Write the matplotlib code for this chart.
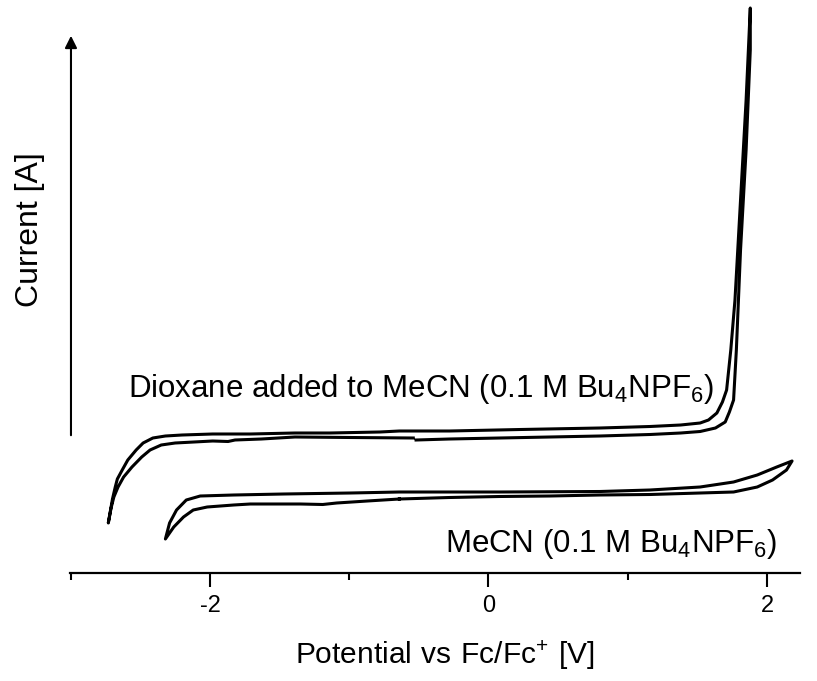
import matplotlib
matplotlib.use("Agg")
import matplotlib.pyplot as plt
import numpy as np

plt.rcParams['font.family'] = ['Liberation Sans', 'DejaVu Sans']
plt.rcParams['mathtext.fontset'] = 'custom'
plt.rcParams['mathtext.rm'] = 'Liberation Sans'
plt.rcParams['axes.unicode_minus'] = False

# dioxane added to MeCN: scan starts at -0.52 V, runs positive, back to -2.73 V, then up again
dioxane_v = [-0.52, -0.28, 0.08, 0.44, 0.80, 1.16, 1.38, 1.52, 1.63, 1.70, 1.73, 1.76,
             1.78, 1.81, 1.85, 1.88, 1.88,
             1.85, 1.81, 1.77, 1.74, 1.71, 1.68, 1.64, 1.58, 1.52, 1.38, 1.16, 0.80,
             0.23, -0.28, -0.64, -0.78, -1.14, -1.39, -1.71, -1.98, -2.20, -2.32,
             -2.41, -2.48, -2.53, -2.59, -2.63, -2.665, -2.68, -2.70, -2.715, -2.73,
             -2.71, -2.69, -2.66, -2.62, -2.56, -2.49, -2.43, -2.35, -2.25, -1.98, -1.87, -1.82,
             -1.63, -1.39, -0.99, -0.54]
dioxane_i = [1.33, 1.34, 1.35, 1.36, 1.37, 1.385, 1.40, 1.415, 1.45, 1.51, 1.61, 1.73,
             2.23, 3.23, 4.23, 5.23, 5.65,
             4.73, 3.73, 2.73, 2.23, 1.83, 1.71, 1.60, 1.53, 1.50, 1.48, 1.465, 1.45,
             1.435, 1.42, 1.42, 1.41, 1.40, 1.40, 1.39, 1.39, 1.38, 1.37,
             1.35, 1.30, 1.23, 1.13, 1.03, 0.94, 0.86, 0.74, 0.62, 0.50,
             0.65, 0.76, 0.86, 0.96, 1.06, 1.16, 1.23, 1.28, 1.30, 1.32, 1.315, 1.33,
             1.34, 1.36, 1.355, 1.35]

# MeCN blank
mecn_v = [-0.64, -0.28, 0.08, 0.44, 0.80, 1.16, 1.52, 1.76, 1.93, 2.04, 2.14, 2.18,
          2.07, 1.93, 1.76, 1.52, 1.16, 0.80, 0.08, -0.64, -0.99, -1.47, -1.83,
          -2.07, -2.17, -2.24, -2.29, -2.32,
          -2.26, -2.19, -2.12, -2.02, -1.83, -1.71, -1.35, -1.19, -1.09, -0.87, -0.64]
mecn_i = [0.74, 0.755, 0.765, 0.77, 0.78, 0.785, 0.80, 0.81, 0.86, 0.93, 1.03, 1.12,
          1.06, 0.98, 0.91, 0.86, 0.83, 0.815, 0.81, 0.81, 0.80, 0.79, 0.78,
          0.77, 0.73, 0.63, 0.50, 0.34,
          0.46, 0.56, 0.63, 0.66, 0.68, 0.69, 0.69, 0.685, 0.70, 0.72, 0.74]

fig = plt.figure(figsize=(8.17, 6.81), dpi=100)
ax = fig.add_axes([70 / 817, 108 / 681, 730 / 817, 573 / 681])

ax.plot(dioxane_v, dioxane_i, color='black', lw=2.2, solid_joinstyle='round')
ax.plot(mecn_v, mecn_i, color='black', lw=2.2, solid_joinstyle='round')

ax.set_xlim(-3.005, 2.237)
ax.set_ylim(0, 5.73)

for s in ['top', 'right', 'left']:
    ax.spines[s].set_visible(False)
ax.spines['bottom'].set_linewidth(1.6)
ax.set_yticks([])
ax.set_xticks([-2, 0, 2])
ax.set_xticks([-3, -1, 1], minor=True)
ax.tick_params(axis='x', which='major', direction='out', length=10, width=1.5,
               labelsize=17, pad=6)
ax.tick_params(axis='x', which='minor', direction='out', length=5, width=1.5)

# current axis drawn as a bare arrow
ax.annotate('', xy=(-2.998, 5.40), xytext=(-2.998, 1.35),
            arrowprops=dict(arrowstyle='-|>', lw=1.5, color='black', mutation_scale=18),
            annotation_clip=False)

ax.text(-2.59, 1.76, r'Dioxane added to MeCN (0.1 M Bu$\mathregular{_4}$NPF$\mathregular{_6}$)',
        fontsize=22.5, va='baseline', ha='left')
ax.text(-0.31, 0.21, r'MeCN (0.1 M Bu$\mathregular{_4}$NPF$\mathregular{_6}$)',
        fontsize=22.5, va='baseline', ha='left')

fig.text(445 / 817, 1 - 655 / 681, r'$\mathregular{Potential\ vs\ Fc/Fc^{+}\ [V]}$',
         fontsize=21.5, ha='center', va='center')
fig.text(30 / 817, 1 - 230 / 681, 'Current [A]', fontsize=23, rotation=90,
         ha='center', va='center')

fig.savefig('out.png', dpi=100)
